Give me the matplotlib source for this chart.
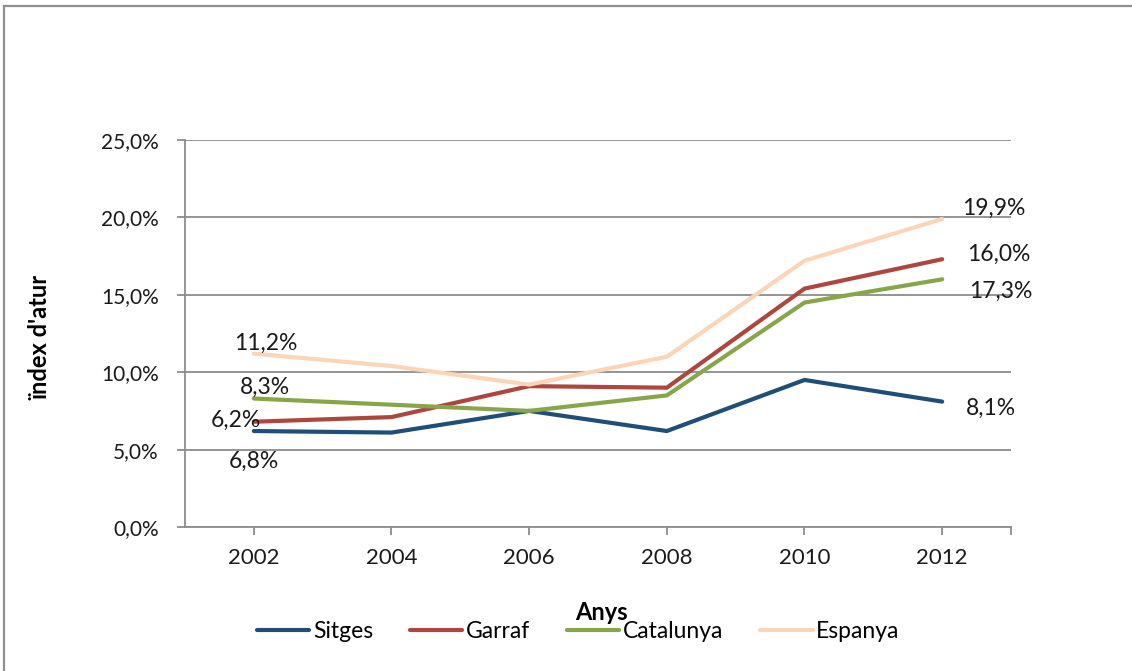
import matplotlib
matplotlib.use("Agg")
import matplotlib.pyplot as plt
from matplotlib.patches import Rectangle
from matplotlib.ticker import FuncFormatter, FixedLocator

plt.rcParams["font.family"] = ["Lato", "DejaVu Sans"]

YEARS = ["2002", "2004", "2006", "2008", "2010", "2012"]
SERIES = ["Sitges", "Garraf", "Catalunya", "Espanya"]
SITGES = [6.2, 6.1, 7.5, 6.2, 9.5, 8.1]
GARRAF = [6.8, 7.1, 9.1, 9.0, 15.4, 17.3]
CATALUNYA = [8.3, 7.9, 7.5, 8.5, 14.5, 16.0]
ESPANYA = [11.2, 10.4, 9.2, 11.0, 17.2, 19.9]
VALUES = [SITGES, GARRAF, CATALUNYA, ESPANYA]

COLORS = ["#1F4E79", "#AE4640", "#87A64A", "#FCD5B8"]
GRID = "#8c8c8c"

# posicions de les etiquetes de dades (offset en píxels respecte del punt)
LABEL_OFFSETS = {
    ("Sitges", 0): (-18, 11), ("Garraf", 0): (0, -40),
    ("Catalunya", 0): (11, 11), ("Espanya", 0): (12, 10),
    ("Sitges", 5): (49, -7), ("Garraf", 5): (59, -32),
    ("Catalunya", 5): (57, 25), ("Espanya", 5): (52, 11),
}

W, H = 1132, 671
fig = plt.figure(figsize=(W / 100, H / 100), dpi=100)
fig.patch.set_facecolor("white")

fig.add_artist(Rectangle((4 / W, -0.1), 1.2, 1 - 6 / H + 0.1,
                         transform=fig.transFigure, fill=False,
                         edgecolor="#8f8f8f", linewidth=1.6))

ax = fig.add_axes([185 / W, 1 - 527 / H, 826 / W, 387 / H])
x = list(range(len(YEARS)))

for name, vals, col in zip(SERIES, VALUES, COLORS):
    ax.plot(x, vals, color=col, linewidth=3.0, label=name,
            solid_capstyle="round", solid_joinstyle="miter", zorder=3)
    for i in (0, len(YEARS) - 1):
        dx, dy = LABEL_OFFSETS[(name, i)]
        ax.annotate(f"{vals[i]:.1f}".replace(".", ",") + "%", (i, vals[i]),
                    xytext=(dx, dy), textcoords="offset pixels",
                    ha="center", va="center", fontsize=16.5,
                    color="#1a1a1a", zorder=4)

ax.set_xlim(-0.5, len(YEARS) - 0.5)
ax.set_ylim(0, 25)
ax.set_yticks([0, 5, 10, 15, 20, 25])
ax.yaxis.set_major_formatter(FuncFormatter(
    lambda v, p: f"{v:.1f}".replace(".", ",") + "%"))
ax.set_xticks(x)
ax.set_xticklabels(YEARS)
ax.xaxis.set_minor_locator(FixedLocator([len(YEARS) - 0.5]))

ax.grid(axis="y", color=GRID, linewidth=1.3, zorder=1)
ax.set_axisbelow(True)
for s in ("top", "right"):
    ax.spines[s].set_visible(False)
for s in ("left", "bottom"):
    ax.spines[s].set_color(GRID)
    ax.spines[s].set_linewidth(1.3)

ax.tick_params(axis="y", which="major", direction="out", length=6, width=1.3,
               color=GRID, labelsize=15, pad=13, labelcolor="#1a1a1a")
ax.tick_params(axis="x", which="both", direction="out", length=6, width=1.3,
               color=GRID, labelsize=16, pad=9, labelcolor="#1a1a1a")

ax.set_ylabel("ïndex d'atur", fontsize=17, fontweight="bold")
ax.yaxis.set_label_coords(-134 / 826, 0.49)

leg = fig.legend(loc="center", bbox_to_anchor=(578 / W, 1 - 632 / H), ncol=4,
                 frameon=False, fontsize=16.5, handlelength=2.3,
                 handletextpad=0.15, columnspacing=1.6)
leg.set_zorder(2)

# el títol de l'eix X queda encavalcat amb la llegenda, com a l'original
fig.text(601 / W, 1 - 612 / H, "Anys", fontsize=17, fontweight="bold",
         ha="center", va="center", zorder=5)

plt.savefig("out.png", dpi=100, facecolor="white")
plt.close()
